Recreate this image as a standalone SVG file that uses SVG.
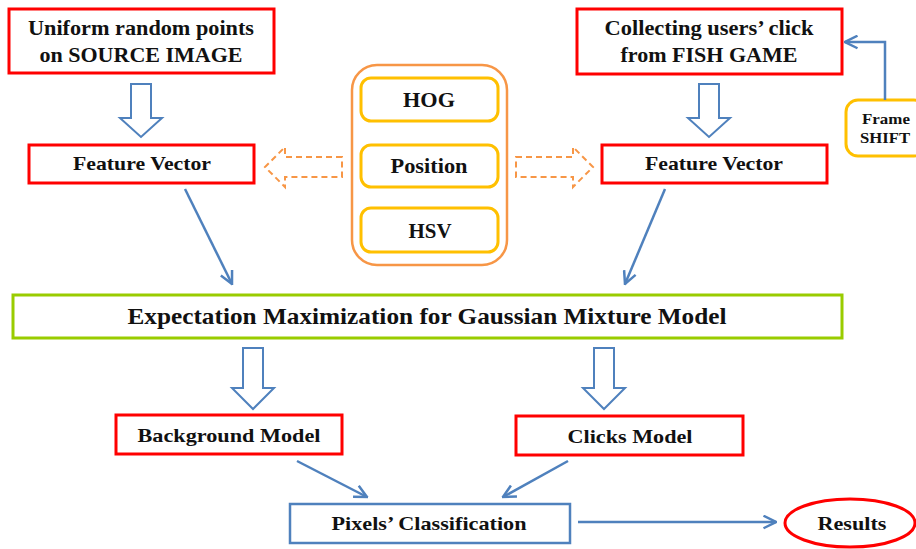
<svg xmlns="http://www.w3.org/2000/svg" width="916" height="549" viewBox="0 0 916 549">
<defs>
<style>
.red{fill:#fff;stroke:#FF0000;stroke-width:3}
.t{font-family:'Liberation Serif','DejaVu Serif',serif;font-weight:bold;fill:#111;text-anchor:middle}
.hollow{fill:#fff;stroke:#4F81BD;stroke-width:2}
.dash{fill:#fff;stroke:#F79646;stroke-width:2;stroke-dasharray:6 4}
.conn{fill:none;stroke:#4F81BD;stroke-width:2.5}
.yel{fill:#fff;stroke:#FFC000;stroke-width:3}
</style>
<marker id="ah" viewBox="0 0 12 12" refX="11" refY="6" markerWidth="6" markerHeight="6" orient="auto" markerUnits="strokeWidth">
<path d="M1,1 L11,6 L1,11" fill="none" stroke="#4F81BD" stroke-width="2"/>
</marker>
</defs>
<rect width="916" height="549" fill="#fff"/>

<g id="src">
<rect class="red" x="9" y="9" width="265" height="64"/>
<text class="t" x="141" y="35" font-size="20" textLength="226" lengthAdjust="spacingAndGlyphs">Uniform random points</text>
<text class="t" x="141" y="62" font-size="20" textLength="203" lengthAdjust="spacingAndGlyphs">on SOURCE IMAGE</text>
</g>

<g id="fish">
<rect class="red" x="577" y="9" width="265" height="65"/>
<text class="t" x="709" y="35" font-size="20" textLength="209" lengthAdjust="spacingAndGlyphs">Collecting users’ click</text>
<text class="t" x="709" y="62" font-size="20" textLength="177" lengthAdjust="spacingAndGlyphs">from FISH GAME</text>
</g>

<g id="fv-left">
<rect class="red" x="29" y="145" width="225" height="38"/>
<text class="t" x="142" y="170" font-size="19" textLength="138" lengthAdjust="spacingAndGlyphs">Feature Vector</text>
</g>

<g id="fv-right">
<rect class="red" x="602" y="145" width="225" height="38"/>
<text class="t" x="714" y="170" font-size="19" textLength="138" lengthAdjust="spacingAndGlyphs">Feature Vector</text>
</g>

<g id="features">
<rect x="352" y="65" width="155" height="200" rx="25" fill="#fff" stroke="#F79646" stroke-width="2.5"/>
<rect class="yel" x="361" y="78" width="137" height="43" rx="10"/>
<text class="t" x="429" y="107" font-size="21" textLength="52" lengthAdjust="spacingAndGlyphs">HOG</text>
<rect class="yel" x="361" y="145" width="137" height="42" rx="10"/>
<text class="t" x="429" y="173" font-size="21" textLength="77" lengthAdjust="spacingAndGlyphs">Position</text>
<rect class="yel" x="361" y="208" width="137" height="44" rx="10"/>
<text class="t" x="430" y="238" font-size="21" textLength="43" lengthAdjust="spacingAndGlyphs">HSV</text>
</g>

<g id="frameshift">
<rect class="yel" x="846" y="100" width="80" height="56" rx="12"/>
<text class="t" x="886" y="124" font-size="15" textLength="48" lengthAdjust="spacingAndGlyphs">Frame</text>
<text class="t" x="885" y="143" font-size="15" textLength="50" lengthAdjust="spacingAndGlyphs">SHIFT</text>
</g>

<g id="em">
<rect x="13" y="295" width="829" height="43" fill="#fff" stroke="#99CC00" stroke-width="3"/>
<text class="t" x="427" y="324" font-size="23" textLength="599" lengthAdjust="spacingAndGlyphs">Expectation Maximization for Gaussian Mixture Model</text>
</g>

<g id="bg">
<rect class="red" x="116" y="415" width="226" height="39"/>
<text class="t" x="229" y="442" font-size="19" textLength="183" lengthAdjust="spacingAndGlyphs">Background Model</text>
</g>

<g id="clicks">
<rect class="red" x="516" y="416" width="227" height="39"/>
<text class="t" x="630" y="443" font-size="19" textLength="125" lengthAdjust="spacingAndGlyphs">Clicks Model</text>
</g>

<g id="pixels">
<rect x="290" y="504" width="280" height="39" fill="#fff" stroke="#4F81BD" stroke-width="2.5"/>
<text class="t" x="429" y="530" font-size="19" textLength="195" lengthAdjust="spacingAndGlyphs">Pixels’ Classification</text>
</g>

<g id="results">
<ellipse cx="850" cy="523" rx="65" ry="24" fill="#fff" stroke="#FF0000" stroke-width="3"/>
<text class="t" x="852" y="530" font-size="19" textLength="69" lengthAdjust="spacingAndGlyphs">Results</text>
</g>

<g id="connectors">
<path class="hollow" d="M131,84 H151 V118 H162 L141,137 L120,118 H131 Z"/>
<path class="hollow" d="M699,84 H719 V118 H730 L709,137 L688,118 H699 Z"/>
<path class="hollow" d="M243,348 H263 V388 H274 L253,409 L232,388 H243 Z"/>
<path class="hollow" d="M594,348 H614 V388 H625 L604,409 L583,388 H594 Z"/>
<path class="dash" d="M342,157 H285 V147 L265,167 L285,187 V177 H342 Z"/>
<path class="dash" d="M516,157 H573 V147 L593,167 L573,187 V177 H516 Z"/>
<path class="conn" d="M885,100 V42 H845" marker-end="url(#ah)"/>
<path class="conn" d="M185,189 L232,284" marker-end="url(#ah)"/>
<path class="conn" d="M665,189 L625,284" marker-end="url(#ah)"/>
<path class="conn" d="M297,461 L367,497" marker-end="url(#ah)"/>
<path class="conn" d="M568,461 L503,497" marker-end="url(#ah)"/>
<path class="conn" d="M578,522 H776" marker-end="url(#ah)"/>
</g>
</svg>
